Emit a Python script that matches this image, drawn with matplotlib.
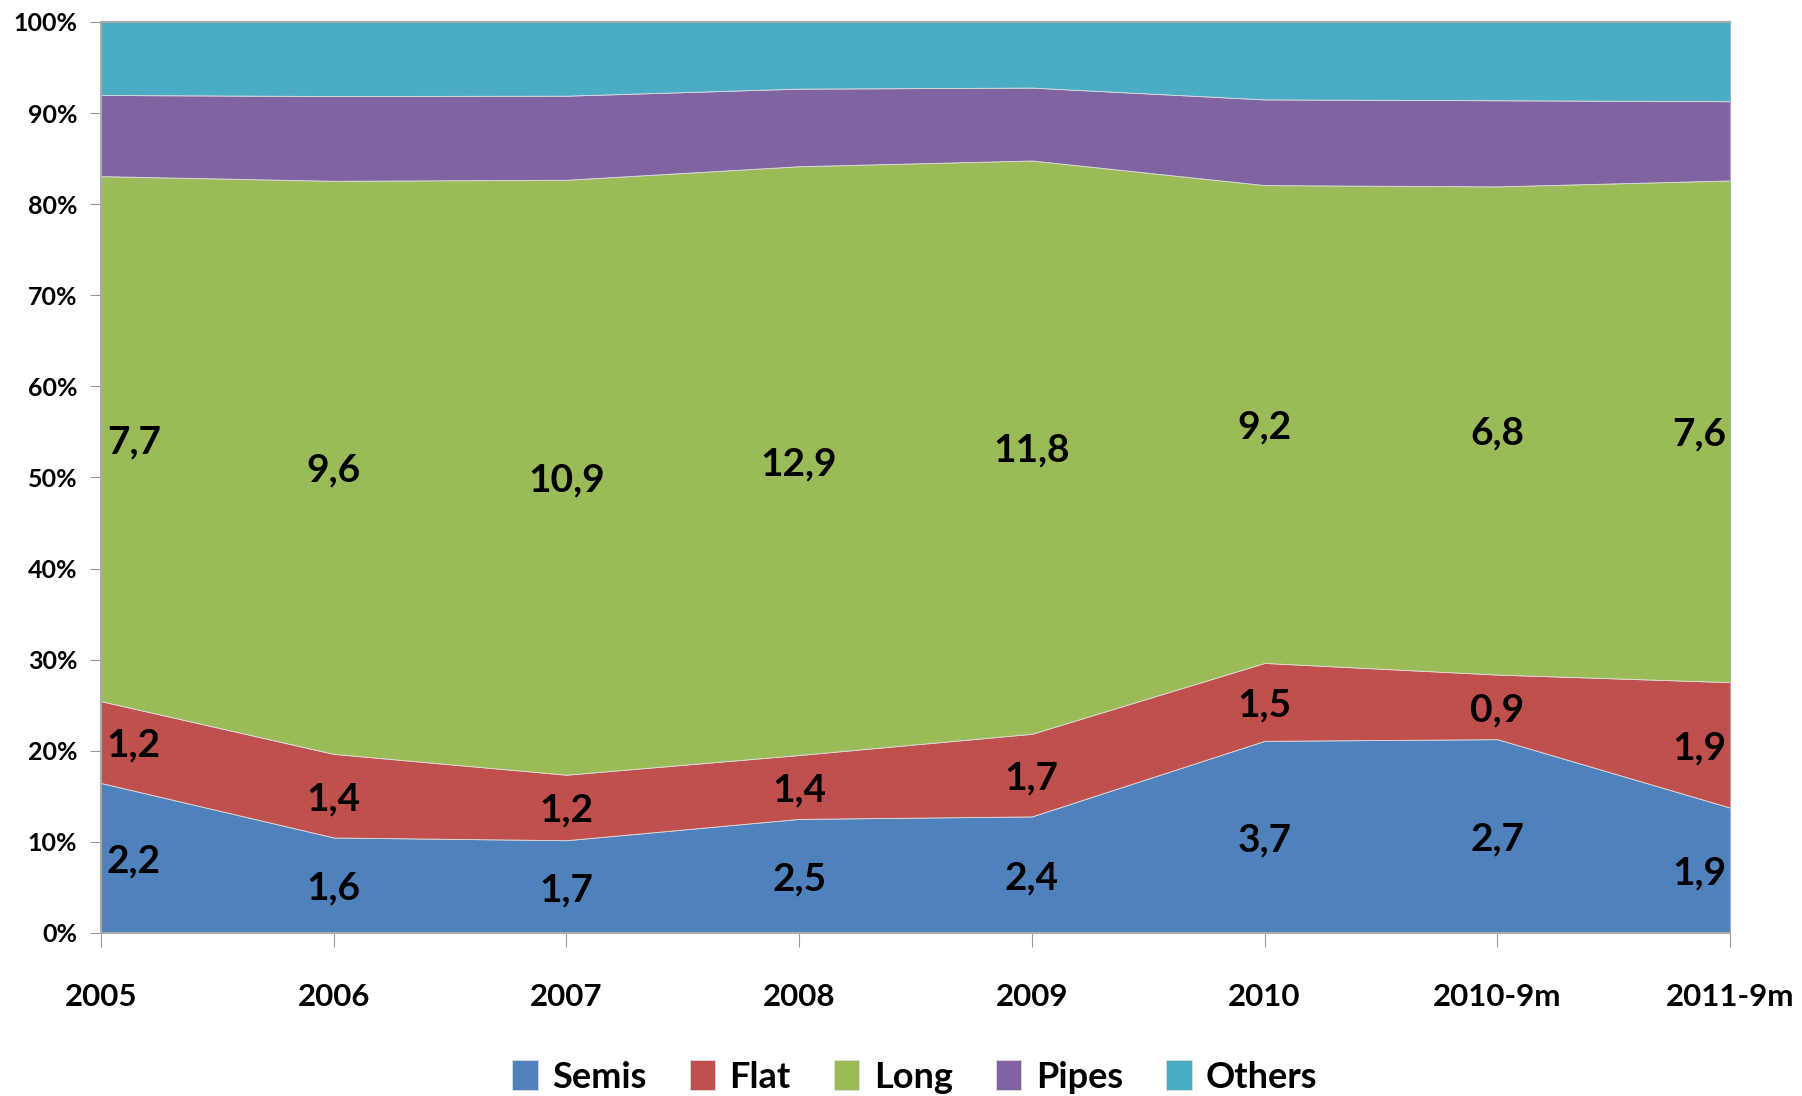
import numpy as np
import matplotlib
matplotlib.use("Agg")
import matplotlib.pyplot as plt

plt.rcParams['font.family'] = ['Lato', 'DejaVu Sans']
plt.rcParams['font.weight'] = 'bold'

years = ['2005', '2006', '2007', '2008', '2009', '2010', '2010-9m', '2011-9m']
series_names = ['Semis', 'Flat', 'Long', 'Pipes', 'Others']
semis = [2.2, 1.6, 1.7, 2.5, 2.4, 3.7, 2.7, 1.9]
flat = [1.2, 1.4, 1.2, 1.4, 1.7, 1.5, 0.9, 1.9]
long_ = [7.7, 9.6, 10.9, 12.9, 11.8, 9.2, 6.8, 7.6]
pipes = [1.19, 1.42, 1.54, 1.70, 1.50, 1.65, 1.20, 1.20]
others = [1.07, 1.24, 1.35, 1.46, 1.35, 1.49, 1.09, 1.20]
colors = ['#4F81BD', '#C0504D', '#9BBB59', '#8064A2', '#4BACC6']

data = np.array([semis, flat, long_, pipes, others])
pct = data / data.sum(axis=0) * 100
x = np.arange(len(years))

fig = plt.figure(figsize=(18.02, 10.96), dpi=100)
ax = fig.add_axes([101 / 1802, 1 - 933 / 1096, 1629 / 1802, 911 / 1096])

ax.stackplot(x, pct, colors=colors, labels=series_names, linewidth=0.6,
             edgecolor='#dddddd')

# labels for the first three series, centred in their band
bottom = np.zeros(len(years))
for k in range(3):
    mid = bottom + pct[k] / 2
    for i in range(len(years)):
        txt = f"{data[k][i]:.1f}".replace('.', ',')
        if i == 0:
            ha, xp = 'left', x[i] + 0.025
        elif i == len(years) - 1:
            ha, xp = 'right', x[i] - 0.015
        else:
            ha, xp = 'center', x[i]
        ax.text(xp, mid[i], txt, ha=ha, va='center_baseline', fontsize=28,
                fontweight='bold')
    bottom = bottom + pct[k]

ax.set_xlim(0, len(years) - 1)
ax.set_ylim(0, 100)
ax.set_xticks(x)
ax.set_xticklabels(years, fontsize=22.5, fontweight='bold')
ax.set_yticks(np.arange(0, 101, 10))
ax.set_yticklabels([f"{v}%" for v in range(0, 101, 10)], fontsize=18, fontweight='bold')
ax.tick_params(axis='x', length=10, color='#999999', pad=26)
ax.tick_params(axis='y', length=8, color='#999999', pad=9)
for s in ax.spines.values():
    s.set_color('#aaaaaa')
    s.set_linewidth(1.5)
ax.spines['right'].set_linewidth(0.8)

handles, labels = ax.get_legend_handles_labels()
fig.legend(handles, labels, loc='center', bbox_to_anchor=(915 / 1802, 1 - 1077 / 1096),
           ncol=5, frameon=False, prop={'size': 26, 'weight': 'bold'},
           handlelength=0.7, handleheight=0.9, handletextpad=0.4, columnspacing=1.2)

fig.savefig('out.png', dpi=100)
